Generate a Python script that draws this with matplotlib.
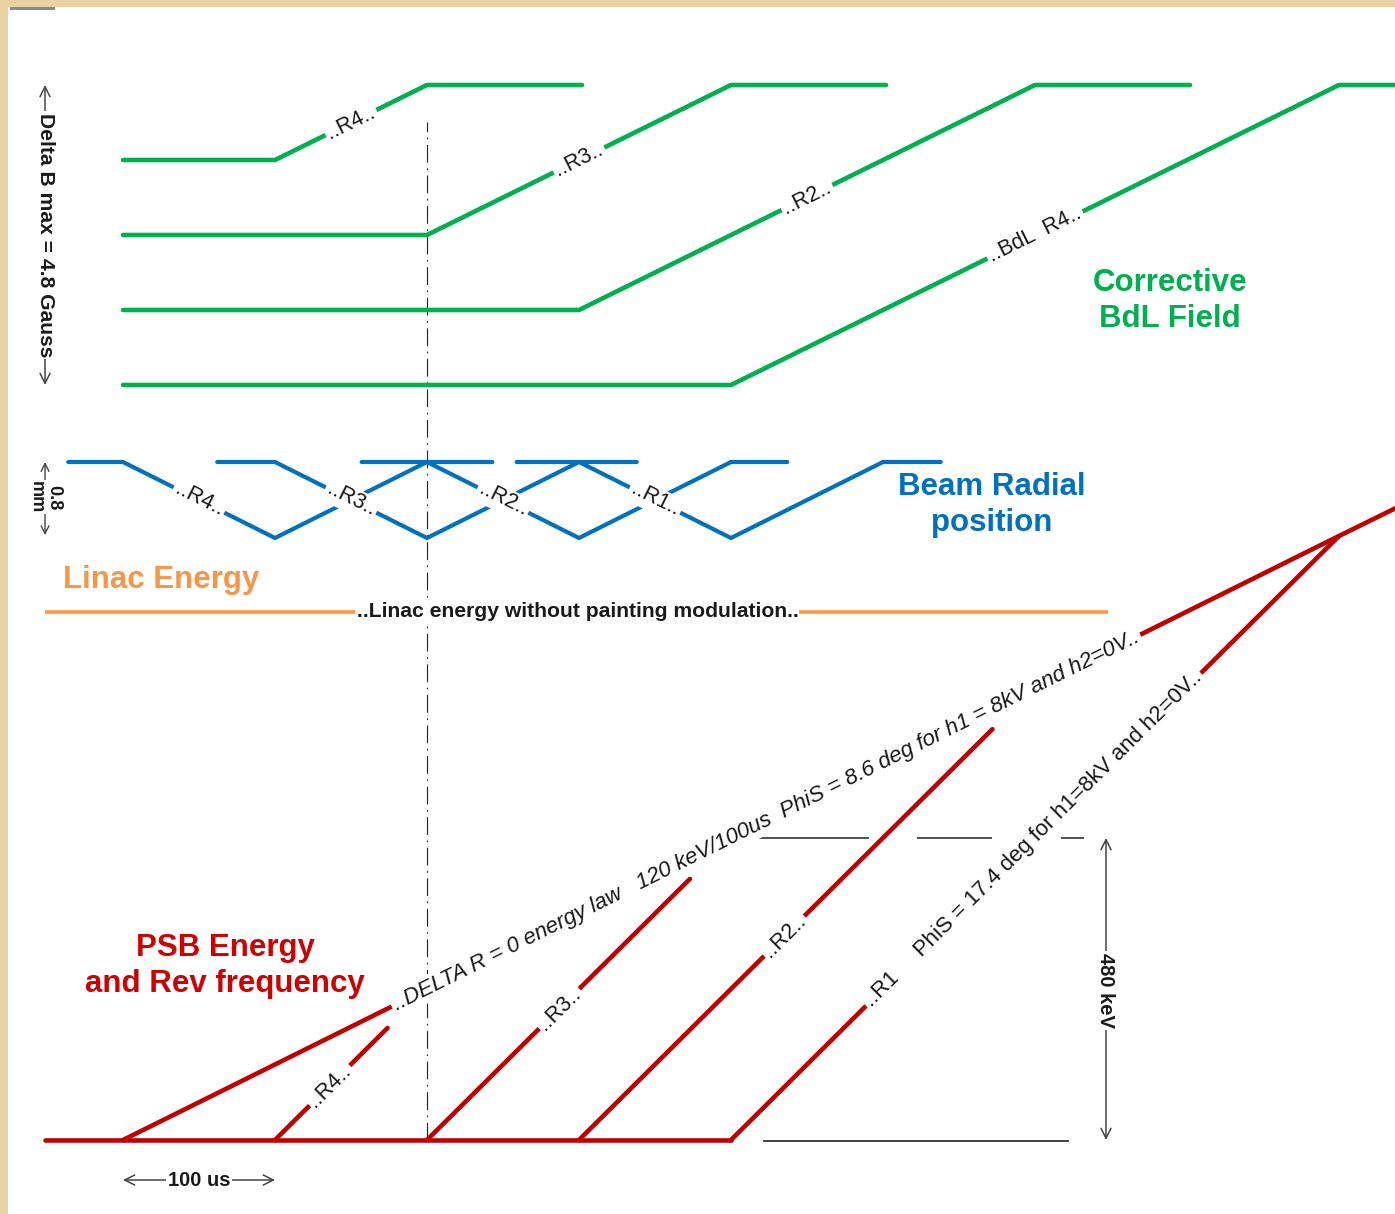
import numpy as np
import matplotlib.pyplot as plt
from matplotlib.patches import Rectangle

plt.rcParams['font.family'] = ['Liberation Sans', 'DejaVu Sans']

# time in microseconds, t = 0 at start of the first ring painting
# corrective BdL field per ring (Gauss)
bdl_r4_t = [0, 100, 200, 302]
bdl_r4 = [3.6, 3.6, 4.8, 4.8]
bdl_r3_t = [0, 200, 400, 502]
bdl_r3 = [2.4, 2.4, 4.8, 4.8]
bdl_r2_t = [0, 300, 600, 702]
bdl_r2 = [1.2, 1.2, 4.8, 4.8]
bdl_r1_t = [0, 400, 800, 840]
bdl_r1 = [0.0, 0.0, 4.8, 4.8]
bdl_labels = ['..R4..', '..R3..', '..R2..', '..BdL  R4..']
bdl_label_t = [150, 300, 450, 600]

# beam radial position per ring (mm)
pos_r4_t = [-36, 0, 100, 200, 243]
pos_r3_t = [62, 100, 200, 300, 338]
pos_r2_t = [157, 200, 300, 400, 437]
pos_r1_t = [259, 300, 400, 500, 538]
pos_r = [0.8, 0.8, 0.0, 0.8, 0.8]
pos_labels = ['..R4..', '..R3..', '..R2..', '..R1..']
pos_label_t = [50, 150, 250, 350]

# linac energy (flat, no painting modulation)
linac_t = [-51, 648]
linac_e = [840, 840]

# PSB energy (keV)
law_t = [0, 800, 837]
law_e = [0, 960, 1004]
base_t = [-51, 400]
base_e = [0, 0]
psb_r4_t = [100, 174]
psb_r4 = [0, 178]
psb_r3_t = [200, 373]
psb_r3 = [0, 415]
psb_r2_t = [300, 572]
psb_r2 = [0, 653]
psb_r1_t = [400, 800]
psb_r1 = [0, 960]
law_text = '..DELTA R = 0 energy law   120 keV/100us  PhiS = 8.6 deg for h1 = 8kV and h2=0V..'
law_text_t = 423
r1_text = '..R1     PhiS = 17.4 deg for h1=8kV and h2=0V..'
r1_text_t = 599
psb_labels = ['..R4..', '..R3..', '..R2..']
psb_label_t = [136, 287, 435]

GREEN = '#00b050'
BLUE = '#0070c0'
RED = '#c00000'
ORANGE = '#ff9a3c'
INK = '#222222'

W, H = 1395, 1214
fig = plt.figure(figsize=(W / 100, H / 100), dpi=100)
fig.patch.set_facecolor('white')
tlim = (-123 / 1.52, (W - 123) / 1.52)


def layer(y0, scale):
    # full-figure axes; y0 = pixel row of value 0, scale = pixels per unit
    ax = fig.add_axes([0, 0, 1, 1])
    ax.set_xlim(*tlim)
    ax.set_ylim((y0 - H) / scale, y0 / scale)
    ax.axis('off')
    return ax


def on_line(ax, t, ts, vs, s, **kw):
    # label sitting on a polyline, rotated along it
    v = np.interp(t, ts, vs)
    i = np.clip(np.searchsorted(ts, t) - 1, 0, len(ts) - 2)
    slope = (vs[i + 1] - vs[i]) / (ts[i + 1] - ts[i])
    kw.setdefault('fontsize', 15.5)
    ax.text(t, v, s, rotation=np.degrees(np.arctan(slope)), transform_rotates_text=True,
            rotation_mode='anchor', ha='center', va='center', color='#161616',
            bbox=dict(boxstyle='square,pad=0.12', fc='white', ec='none'), zorder=5, **kw)


ax_e = layer(1140, 302 / 480)
ax_p = layer(538, 95)
ax_b = layer(385, 300 / 4.8)

# --- energy layer
ax_e.plot([200, 200], [0, 1618], color=INK, lw=0.8, ls=(0, (16, 5, 1.5, 5)), zorder=1)
ax_e.plot(linac_t, linac_e, color=ORANGE, lw=2.6, solid_capstyle='butt', zorder=2)
ax_e.text(299, 840, '..Linac energy without painting modulation..', ha='center', va='center',
          fontsize=15.2, fontweight='bold', color='#1a1a1a',
          bbox=dict(boxstyle='square,pad=0.05', fc='white', ec='none'), zorder=5)

for ts, es in [(law_t, law_e), (base_t, base_e), (psb_r4_t, psb_r4), (psb_r3_t, psb_r3),
               (psb_r2_t, psb_r2), (psb_r1_t, psb_r1)]:
    ax_e.plot(ts, es, color=RED, lw=3.3, solid_capstyle='round', solid_joinstyle='round', zorder=3)

on_line(ax_e, law_text_t, law_t, law_e, law_text, style='italic', fontsize=16.0)
on_line(ax_e, r1_text_t, psb_r1_t, psb_r1, r1_text, fontsize=15.9)
for (ts, es), lab, t in zip([(psb_r4_t, psb_r4), (psb_r3_t, psb_r3), (psb_r2_t, psb_r2)],
                            psb_labels, psb_label_t):
    on_line(ax_e, t, ts, es, lab)

# 480 keV reference lines
px = 0.72 / 1.1
ax_e.plot([412, 633], [480, 480], color=INK, lw=1.1,
          ls=(0, (120 * px, 48 * px, 75 * px, 69 * px, 23 * px, 200)), zorder=2)
ax_e.plot([422, 622], [-1, -1], color='#333333', lw=1.3, zorder=2)
ax_e.annotate('', xy=(646.7, 480), xytext=(646.7, 0),
              arrowprops=dict(arrowstyle='<->', color='#444444', lw=1.1,
                              shrinkA=0, shrinkB=0, mutation_scale=18))
ax_e.text(646.7, 238, '480 keV', rotation=270, ha='center', va='center', fontsize=14.5,
          fontweight='bold', color='#1a1a1a',
          bbox=dict(boxstyle='square,pad=0.1', fc='white', ec='none'))

# 100 us time scale
ax_e.annotate('', xy=(0, -63.6), xytext=(100, -63.6),
              arrowprops=dict(arrowstyle='<->', color='#444444', lw=1.1,
                              shrinkA=0, shrinkB=0, mutation_scale=18))
ax_e.text(50, -63.6, '100 us', ha='center', va='center', fontsize=14.5, fontweight='bold',
          color='#1a1a1a', bbox=dict(boxstyle='square,pad=0.1', fc='white', ec='none'))

# --- beam radial position layer
for ts in [pos_r4_t, pos_r3_t, pos_r2_t, pos_r1_t]:
    ax_p.plot(ts, pos_r, color=BLUE, lw=3.0, solid_capstyle='round', solid_joinstyle='miter')
for lab, t, ts in zip(pos_labels, pos_label_t, [pos_r4_t, pos_r3_t, pos_r2_t, pos_r1_t]):
    on_line(ax_p, t, ts, pos_r, lab)

ax_p.annotate('', xy=(-51.3, 0.8), xytext=(-51.3, 0.03),
              arrowprops=dict(arrowstyle='<->', color='#444444', lw=1.0,
                              shrinkA=0, shrinkB=0, mutation_scale=14))
ax_p.text(-51.3, 0.43, '0.8\nmm', rotation=270, ha='center', va='center', fontsize=13,
          fontweight='bold', color='#1a1a1a', linespacing=1.0,
          bbox=dict(boxstyle='square,pad=0.05', fc='white', ec='none'))

# --- corrective BdL layer
bdl = [(bdl_r4_t, bdl_r4), (bdl_r3_t, bdl_r3), (bdl_r2_t, bdl_r2), (bdl_r1_t, bdl_r1)]
for ts, bs in bdl:
    ax_b.plot(ts, bs, color=GREEN, lw=3.3, solid_capstyle='round', solid_joinstyle='miter')
for (ts, bs), lab, t in zip(bdl, bdl_labels, bdl_label_t):
    on_line(ax_b, t, ts, bs, lab)

ax_b.annotate('', xy=(-51.3, 4.8), xytext=(-51.3, 0),
              arrowprops=dict(arrowstyle='<->', color='#444444', lw=1.1,
                              shrinkA=0, shrinkB=0, mutation_scale=18))
ax_b.text(-51.3, 2.4, 'Delta B max = 4.8 Gauss', rotation=270, ha='center', va='center',
          fontsize=15.2, fontweight='bold', color='#1a1a1a',
          bbox=dict(boxstyle='square,pad=0.08', fc='white', ec='none'))

# --- titles
def title(x, y, s, c):
    fig.text(x / W, 1 - y / H, s, ha='center', va='center', fontsize=22.5,
             fontweight='bold', color=c, linespacing=1.3)

title(1170, 301, 'Corrective\nBdL Field', GREEN)
title(992, 505, 'Beam Radial\nposition', BLUE)
title(161, 580, 'Linac Energy', '#f79646')
title(225, 966, 'PSB Energy\nand Rev frequency', '#d00000')

# slide frame
tan = '#e8d3a2'
fig.add_artist(Rectangle((0, 0), 8 / W, 1, transform=fig.transFigure, fc=tan, ec='none'))
fig.add_artist(Rectangle((0, 1 - 7 / H), 1, 7 / H, transform=fig.transFigure, fc=tan, ec='none'))
fig.add_artist(Rectangle((10 / W, 1 - 10 / H), 45 / W, 3 / H, transform=fig.transFigure,
                         fc='#8a8a8a', ec='none'))

fig.savefig('out.png', dpi=100, facecolor='white')
